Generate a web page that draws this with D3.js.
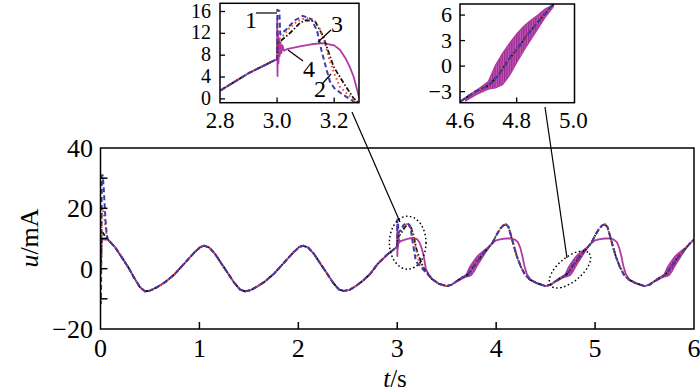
<!DOCTYPE html>
<html>
<head>
<meta charset="utf-8">
<script src="https://cdn.jsdelivr.net/npm/d3@7"></script>
<style>
  body { margin: 0; background: #fff; }
</style>
</head>
<body>
<div id="chart"></div>
<script>
// ---- data (t in s, u in mA) ----
// points where all four curves coincide
const commonT = [0, 0.08, 0.15, 0.22, 0.28, 0.34, 0.40, 0.45, 0.50, 0.58, 0.66, 0.75, 0.85, 0.95, 1.01, 1.05,
  1.10, 1.16, 1.22, 1.29, 1.35, 1.41, 1.46, 1.52, 1.58, 1.66, 1.75, 1.85, 1.95, 2.01, 2.05,
  2.10, 2.16, 2.22, 2.29, 2.35, 2.41, 2.46, 2.52, 2.58, 2.66, 2.73, 2.80, 2.90, 3.00,
  3.35, 3.42, 3.50, 3.55, 3.60, 3.653, 3.70, 3.735, 3.77, 3.806, 3.84, 3.876, 3.924, 3.96,
  4.41, 4.50, 4.55, 4.60, 4.653, 4.70, 4.735, 4.77, 4.806, 4.84, 4.876, 4.924, 4.96,
  5.41, 5.50, 5.55, 5.60, 5.653, 5.70, 5.735, 5.77, 5.806, 5.84, 5.876, 5.924, 5.96, 6.0];
const commonU = [0, 9.5, 7.0, 3.5, 0.5, -3.0, -6.2, -7.5, -7.3, -6.0, -4.3, -1.8, 1.8, 5.4, 7.2, 7.6,
  7.0, 4.8, 1.8, -1.6, -4.6, -6.9, -7.5, -7.1, -6.0, -4.3, -1.8, 1.8, 5.4, 7.2, 7.6,
  7.0, 4.8, 1.8, -1.6, -4.6, -6.9, -7.4, -7.0, -5.8, -3.8, -1.6, 1.5, 4.7, 7.3,
  -3.4, -5.0, -5.8, -5.3, -4.2, -3.0, -2.3, -1.1, 0.7, 2.2, 3.8, 5.2, 7.1, 8.4,
  -4.8, -5.8, -5.3, -4.2, -3.0, -2.3, -1.1, 0.7, 2.2, 3.8, 5.2, 7.1, 8.4,
  -4.8, -5.8, -5.3, -4.2, -3.0, -2.3, -1.1, 0.7, 2.2, 3.8, 5.2, 7.1, 8.4, 9.6];

// start-up transient
const startT = [0.004, 0.008, 0.013, 0.022, 0.032, 0.042, 0.052, 0.062, 0.072];
const start1 = [-11.5, 3, 31, 31, 27, 21, 15.5, 11.5, 10];
const start2 = [-2, 5, 19.5, 20, 18.5, 16, 13.5, 11, 10];
const start3 = [-1, 4, 12, 12, 11.5, 11, 10.5, 10, 9.8];
const start4 = [1, 8, 9.8, 9.8, 9.7, 9.6, 9.6, 9.6, 9.6];

// fault at t = 3 s (inset 1)
const fault1T = [3.001, 3.008, 3.011, 3.03, 3.06, 3.09, 3.12, 3.14, 3.155, 3.17, 3.185, 3.2, 3.23, 3.26, 3.3];
const fault1U = [16.3, 16.1, 11.8, 12.6, 14.3, 15.2, 14.6, 12.5, 9.0, 6.0, 3.2, 2.0, 0.8, -0.2, -1.6];
const fault2T = [3.002, 3.02, 3.04, 3.07, 3.1, 3.13, 3.15, 3.165, 3.18, 3.2, 3.22, 3.256, 3.3];
const fault2U = [10.8, 11.5, 12.8, 14.2, 14.8, 14.5, 12.8, 10.8, 7.7, 4.7, 2.2, 0.4, -1.5];
const fault3T = [3.002, 3.01, 3.046, 3.08, 3.1, 3.133, 3.162, 3.18, 3.198, 3.233, 3.268, 3.3];
const fault3U = [10.3, 10.5, 12.1, 13.9, 14.4, 14.2, 11.4, 8.6, 5.9, 2.9, 0.1, -1.3];
const fault4T = [3.0005, 3.0015, 3.003, 3.005, 3.007, 3.009, 3.012, 3.015, 3.019, 3.024, 3.034,
  3.08, 3.12, 3.16, 3.2, 3.22, 3.239, 3.255, 3.268, 3.29, 3.32];
const fault4U = [14.7, 4.2, 12.5, 6.5, 11, 7.8, 10.4, 8.4, 9.8, 8.8, 9.1,
  9.6, 10.0, 10.2, 9.8, 9.0, 7.5, 5.8, 4.1, -0.2, -2.0];

// peaks of curves 1-3 after t = 4 s and t = 5 s (time after period start)
const peakStarts = [4, 5];
const peakDt = [0.0, 0.04, 0.07, 0.10, 0.125, 0.15, 0.18, 0.21, 0.25, 0.29, 0.34];
const peakU = [11.0, 13.2, 14.3, 14.7, 13.8, 11.0, 7.4, 4.0, 0.6, -1.9, -3.6];
// flat top of curve 4
const plateauDt = [0.0, 0.05, 0.10, 0.15, 0.19, 0.22, 0.245, 0.265, 0.285, 0.31, 0.35];
const plateauU = [9.4, 9.8, 10.0, 10.0, 9.6, 8.8, 6.8, 4.2, 1.0, -1.8, -3.8];

// oscillation band of curve 4 on the rising edges (inset 2)
const bandStarts = [3, 4, 5];
const bandDt = [0.62, 0.66, 0.70, 0.725, 0.75, 0.775, 0.80, 0.825, 0.85, 0.875, 0.90, 0.93];
const bandUpper = [-3.7, -2.8, -1.8, 0.1, 1.5, 2.7, 3.8, 4.7, 5.4, 6.0, 6.7, 7.2];
const bandLower = [-4.1, -3.3, -2.7, -2.55, -2.2, -1.1, 0.4, 1.8, 3.1, 4.4, 5.7, 7.0];

const xTicks = [0, 1, 2, 3, 4, 5, 6];
const yTicks = [-20, -10, 0, 10, 20, 30, 40];
const yLabels = [-20, 0, 20, 40];
const in1XLabels = [2.8, 3.0, 3.2];
const in1YLabels = [0, 4, 8, 12, 16];
const in2XLabels = [4.6, 4.8, 5.0];
const in2YLabels = [-3, 0, 3, 6];

// ---- build the four curves ----
const windows = [[0, 0.08], [3.0, 3.35], [3.96, 4.41], [4.96, 5.41]];

function buildSeries(startU, fT, fU, dt, u) {
  const pts = commonT.map((t, i) => [t, commonU[i]])
    .filter(([t]) => !windows.some(([a, b]) => t > a && t < b));
  startT.forEach((t, i) => pts.push([t, startU[i]]));
  fT.forEach((t, i) => pts.push([t, fU[i]]));
  peakStarts.forEach((s) => dt.forEach((d, i) => pts.push([s + d, u[i]])));
  return pts.sort((a, b) => a[0] - b[0]);
}

const series = [
  { id: 4, pts: buildSeries(start4, fault4T, fault4U, plateauDt, plateauU), color: "#b03aa4", dash: null, w: 1.8 },
  { id: 3, pts: buildSeries(start3, fault3T, fault3U, peakDt, peakU), color: "#111", dash: "5,2,1.5,2", w: 1.8 },
  { id: 2, pts: buildSeries(start2, fault2T, fault2U, peakDt, peakU), color: "#e8542c", dash: "1.6,2.8", w: 2 },
  { id: 1, pts: buildSeries(start1, fault1T, fault1U, peakDt, peakU), color: "#3c3caa", dash: "5,3", w: 2 },
];

const band = [];
bandStarts.forEach((s) => {
  band.push(bandDt.map((d, i) => ({ t: s + d, lo: bandLower[i], hi: bandUpper[i] })));
});

// ---- svg ----
const FONT = '"Liberation Serif"';
const svg = d3.select("body").append("svg").attr("width", 700).attr("height", 391);
const defs = svg.append("defs");
const hatch = defs.append("pattern").attr("id", "hatch")
  .attr("width", 2.4).attr("height", 4).attr("patternUnits", "userSpaceOnUse");
hatch.append("rect").attr("width", 2.4).attr("height", 4).attr("fill", "#c25ab8");
hatch.append("rect").attr("width", 1.3).attr("height", 4).attr("fill", "#9c2a92");

function label(sel) {
  return sel.style("font-family", FONT);
}

function drawPanel(id, x, y) {
  const [x0, x1] = x.range();
  const [y0, y1] = y.range();
  defs.append("clipPath").attr("id", id).append("rect")
    .attr("x", x0).attr("y", y1).attr("width", x1 - x0).attr("height", y0 - y1);
  const g = svg.append("g").attr("clip-path", `url(#${id})`);

  const area = d3.area().x((d) => x(d.t)).y0((d) => y(d.lo)).y1((d) => y(d.hi));
  g.selectAll(".band").data(band).join("path")
    .attr("d", area).attr("fill", "url(#hatch)")
    .attr("stroke", "#b03aa4").attr("stroke-width", 1.2);

  const line = d3.line().x((d) => x(d[0])).y((d) => y(d[1]));
  series.forEach((s) => {
    g.append("path").attr("d", line(s.pts))
      .attr("fill", "none").attr("stroke", s.color).attr("stroke-width", s.w)
      .attr("stroke-dasharray", s.dash).attr("stroke-linejoin", "round");
  });

  svg.append("rect").attr("x", x0).attr("y", y1)
    .attr("width", x1 - x0).attr("height", y0 - y1)
    .attr("fill", "none").attr("stroke", "#000").attr("stroke-width", 1.5);
}

// main chart
const x = d3.scaleLinear().domain([0, 6]).range([100.5, 694]);
const y = d3.scaleLinear().domain([-20, 40]).range([329, 148]);
drawPanel("clipMain", x, y);

svg.selectAll(".xt").data(xTicks.slice(1, -1)).join("line")
  .attr("x1", (d) => x(d)).attr("x2", (d) => x(d)).attr("y1", 329).attr("y2", 322)
  .attr("stroke", "#000").attr("stroke-width", 1.5);
svg.selectAll(".yt").data(yTicks.slice(1, -1)).join("line")
  .attr("x1", 100.5).attr("x2", 107.5).attr("y1", (d) => y(d)).attr("y2", (d) => y(d))
  .attr("stroke", "#000").attr("stroke-width", 1.5);
label(svg.selectAll(".xl").data(xTicks).join("text"))
  .attr("x", (d) => x(d)).attr("y", 357).attr("text-anchor", "middle")
  .attr("font-size", 26).text((d) => d);
label(svg.selectAll(".yl").data(yLabels).join("text"))
  .attr("x", 93).attr("y", (d) => y(d)).attr("dy", "0.35em").attr("text-anchor", "end")
  .attr("font-size", 26).text((d) => (d < 0 ? "\u2212" + Math.abs(d) : d));

const yTitle = label(svg.append("text")).attr("transform", "translate(38,238) rotate(-90)")
  .attr("text-anchor", "middle").attr("font-size", 26);
yTitle.append("tspan").attr("font-style", "italic").text("u");
yTitle.append("tspan").text("/mA");
const xTitle = label(svg.append("text")).attr("x", 395).attr("y", 387)
  .attr("text-anchor", "middle").attr("font-size", 25);
xTitle.append("tspan").attr("font-style", "italic").text("t");
xTitle.append("tspan").text("/s");

// inset 1 (fault at 3 s)
const x1 = d3.scaleLinear().domain([2.8, 3.287]).range([220, 359]);
const y1 = d3.scaleLinear().domain([-0.7, 17.5]).range([102.7, 3.3]);
drawPanel("clipIn1", x1, y1);
svg.selectAll(".i1yt").data(in1YLabels).join("line")
  .attr("x1", 220).attr("x2", 225).attr("y1", (d) => y1(d)).attr("y2", (d) => y1(d))
  .attr("stroke", "#000").attr("stroke-width", 1.3);
svg.selectAll(".i1xt").data(in1XLabels.slice(1)).join("line")
  .attr("x1", (d) => x1(d)).attr("x2", (d) => x1(d)).attr("y1", 102.7).attr("y2", 97.5)
  .attr("stroke", "#000").attr("stroke-width", 1.3);
label(svg.selectAll(".i1yl").data(in1YLabels).join("text"))
  .attr("x", 211).attr("y", (d) => y1(d)).attr("dy", "0.3em").attr("text-anchor", "end")
  .attr("font-size", 20).text((d) => d);
label(svg.selectAll(".i1xl").data(in1XLabels).join("text"))
  .attr("x", (d) => x1(d)).attr("y", 128).attr("text-anchor", "middle")
  .attr("font-size", 23).text((d) => d.toFixed(1));

// inset 2 (oscillation around 4.8 s)
const x2 = d3.scaleLinear().domain([4.6, 5.004]).range([460, 574.5]);
const y2 = d3.scaleLinear().domain([-4.3, 7.3]).range([102.7, 4]);
drawPanel("clipIn2", x2, y2);
svg.selectAll(".i2yt").data(in2YLabels).join("line")
  .attr("x1", 460).attr("x2", 465).attr("y1", (d) => y2(d)).attr("y2", (d) => y2(d))
  .attr("stroke", "#000").attr("stroke-width", 1.3);
svg.selectAll(".i2xt").data([4.8]).join("line")
  .attr("x1", (d) => x2(d)).attr("x2", (d) => x2(d)).attr("y1", 102.7).attr("y2", 97.5)
  .attr("stroke", "#000").attr("stroke-width", 1.3);
label(svg.selectAll(".i2yl").data(in2YLabels).join("text"))
  .attr("x", 452).attr("y", (d) => y2(d)).attr("dy", "0.33em").attr("text-anchor", "end")
  .attr("font-size", 22).text((d) => (d < 0 ? "\u2212" + Math.abs(d) : d));
label(svg.selectAll(".i2xl").data(in2XLabels).join("text"))
  .attr("x", (d) => x2(d)).attr("y", 128).attr("text-anchor", "middle")
  .attr("font-size", 23).text((d) => d.toFixed(1));

// curve numbers in inset 1
const tags = [
  { t: "1", x: 251, y: 28, l: [256, 13, 277, 13] },
  { t: "3", x: 337, y: 32, l: [318, 42, 331, 30] },
  { t: "4", x: 309, y: 77, l: [288, 50, 303, 61] },
  { t: "2", x: 320, y: 97, l: [323, 83, 331, 74] },
];
tags.forEach((d) => {
  svg.append("line").attr("x1", d.l[0]).attr("y1", d.l[1]).attr("x2", d.l[2]).attr("y2", d.l[3])
    .attr("stroke", "#000").attr("stroke-width", 1.2);
  label(svg.append("text")).attr("x", d.x).attr("y", d.y).attr("text-anchor", "middle")
    .attr("font-size", 24).text(d.t);
});

// callouts: dotted ellipses and leader lines
svg.append("line").attr("x1", 352).attr("y1", 112).attr("x2", 400).attr("y2", 222)
  .attr("stroke", "#000").attr("stroke-width", 1.2);
svg.append("line").attr("x1", 545).attr("y1", 107).attr("x2", 567).attr("y2", 258)
  .attr("stroke", "#000").attr("stroke-width", 1.2);
svg.append("ellipse").attr("cx", 407.7).attr("cy", 242.7).attr("rx", 18.3).attr("ry", 26.5)
  .attr("fill", "none").attr("stroke", "#000").attr("stroke-width", 1.5).attr("stroke-dasharray", "1.5,2.5");
svg.append("ellipse").attr("cx", 0).attr("cy", 0).attr("rx", 25).attr("ry", 12)
  .attr("transform", "translate(570,269.5) rotate(-40)")
  .attr("fill", "none").attr("stroke", "#000").attr("stroke-width", 1.5).attr("stroke-dasharray", "1.5,2.5");
</script>
</body>
</html>
